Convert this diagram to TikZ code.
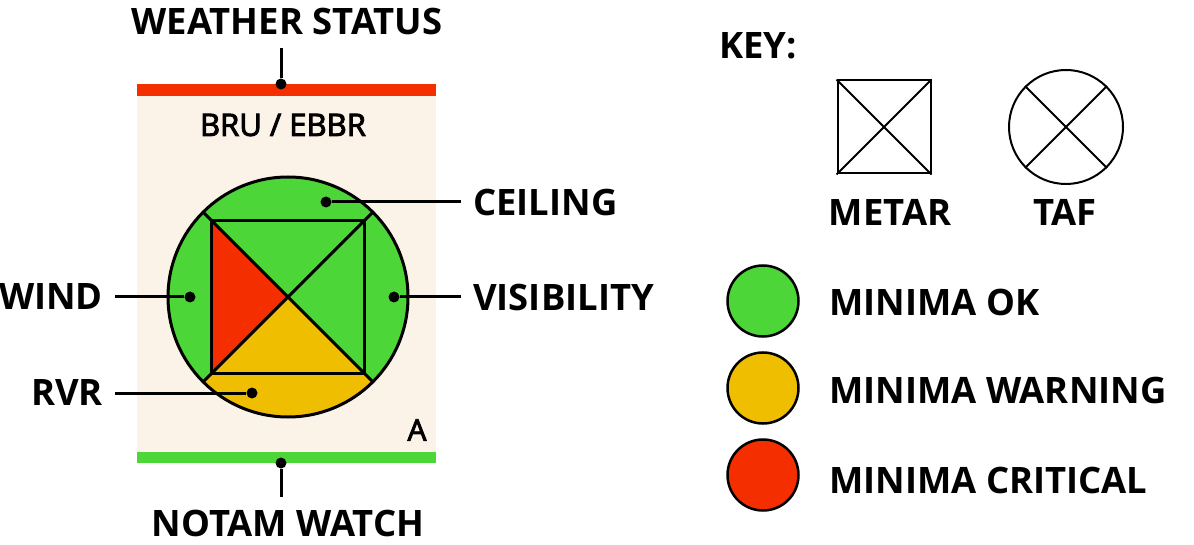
\documentclass[tikz,border=0pt]{standalone}
\usepackage{fontspec}
\setmainfont{Open Sans}
\newfontfamily\semibold[FakeBold=3]{Open Sans}
\usetikzlibrary{positioning, calc}

\begin{document}
\begin{tikzpicture}[
    x=1pt, y=-1pt,
    every node/.style={inner sep=0pt},
]

% ---------------------------------------------------------------- colours
\definecolor{okgreen}{HTML}{4CD637}   % minima ok, notam bar
\definecolor{warnyellow}{HTML}{F0BE00}
\definecolor{critred}{HTML}{F52E00}   % minima critical, weather bar
\definecolor{paper}{HTML}{FCF3E8}

\tikzset{
    lbl/.style={font=\bfseries\fontsize{36.4}{40}\selectfont},
    code/.style={font=\semibold\fontsize{31}{34}\selectfont},
    pindot/.style={circle, fill=black, minimum size=11pt},
    lead/.style={line width=3pt, shorten >=12pt},
    outline/.style={line width=3pt},
    keyline/.style={line width=2pt},
    swatch/.style={circle, draw, line width=2.5pt, minimum size=71pt},
}

\useasboundingbox (0,0) rectangle (1194,545);

% ================================================================
% The station card: coloured bars, dial, pointers
%   card x 137..436, dial centre (288,297), r = 120
% ================================================================
\fill[critred] (137,84) rectangle (436,96);
\fill[paper]   (137,96) rectangle (436,452);
\fill[okgreen] (137,452) rectangle (436,463);

\node[code] (station) at (283,125) {BRU / EBBR};
\node[code, font=\semibold\fontsize{30}{32}\selectfont] (runway) at (417,430) {A};

% ----------------------------------------------------------------------
% dial
% ----------------------------------------------------------------------
\node[circle, fill=okgreen, minimum size=240pt] (dial) at (288,297) {};
\node[rectangle, minimum size=152pt] (box) at (dial) {};

\begin{scope}
    \clip (dial.center) circle[radius=120];
    \fill[warnyellow] (dial.center) -- ++(130,130) -- ++(-260,0) -- cycle;
\end{scope}
\fill[critred] (box.north west) -- (dial.center) -- (box.south west) -- cycle;

\draw[outline] (box.north west) rectangle (box.south east);
\draw[outline] (dial.135) -- (dial.-45);
\draw[outline] (dial.45) -- (dial.-135);
\draw[outline] (dial.center) circle[radius=120];

% ----------------------------------------------------------------------
% pointers
% ----------------------------------------------------------------------
\node[pindot] (wsdot) at (281,84) {};
\node[lbl] (weather) at (287,22) {WEATHER STATUS};
\draw[lead] (wsdot) -- (wsdot |- weather.south);

\node[pindot] (ntdot) at (281,463) {};
\node[lbl] (notam) at (288,523) {NOTAM WATCH};
\draw[lead] (ntdot) -- (ntdot |- notam.north);

\node[pindot] (ceildot) at (326,202) {};
\node[lbl, anchor=west] (ceiling) at (473,202) {CEILING};
\draw[lead] (ceildot) -- (ceiling);

\node[pindot] (visdot) at (394,297) {};
\node[lbl, anchor=west] (visibility) at (473,297) {VISIBILITY};
\draw[lead] (visdot) -- (visibility);

\node[pindot] (winddot) at (190,297) {};
\node[lbl, anchor=east] (wind) at (103,297) {WIND};
\draw[lead] (winddot) -- (wind);

\node[pindot] (rvrdot) at (252,393) {};
\node[lbl, anchor=east] (rvr) at (103,393) {RVR};
\draw[lead] (rvrdot) -- (rvr);

% ================================================================
% Key
% ================================================================
\node[lbl, anchor=west] (key) at (719,46) {KEY:};

\node[rectangle, draw, keyline, minimum size=93pt] (metar) at (884,127) {};
\draw[keyline] (metar.north west) -- (metar.south east);
\draw[keyline] (metar.south west) -- (metar.north east);
\node[lbl] (metarlbl) at (890,212) {METAR};

\node[circle, draw, keyline, minimum size=114pt] (taf) at (1066,127) {};
\draw[keyline] (taf.135) -- (taf.-45);
\draw[keyline] (taf.45) -- (taf.-135);
\node[lbl] (taflbl) at (1065,212) {TAF};

\node[swatch, fill=okgreen]    (ok)   at (763,301) {};
\node[swatch, fill=warnyellow] (warn) at (763,388) {};
\node[swatch, fill=critred]    (crit) at (763,475) {};

\node[lbl, anchor=west] (oklbl)   at (829,302) {MINIMA OK};
\node[lbl, anchor=west] (warnlbl) at (829,390) {MINIMA WARNING};
\node[lbl, anchor=west] (critlbl) at (829,480) {MINIMA CRITICAL};

\end{tikzpicture}
\end{document}
